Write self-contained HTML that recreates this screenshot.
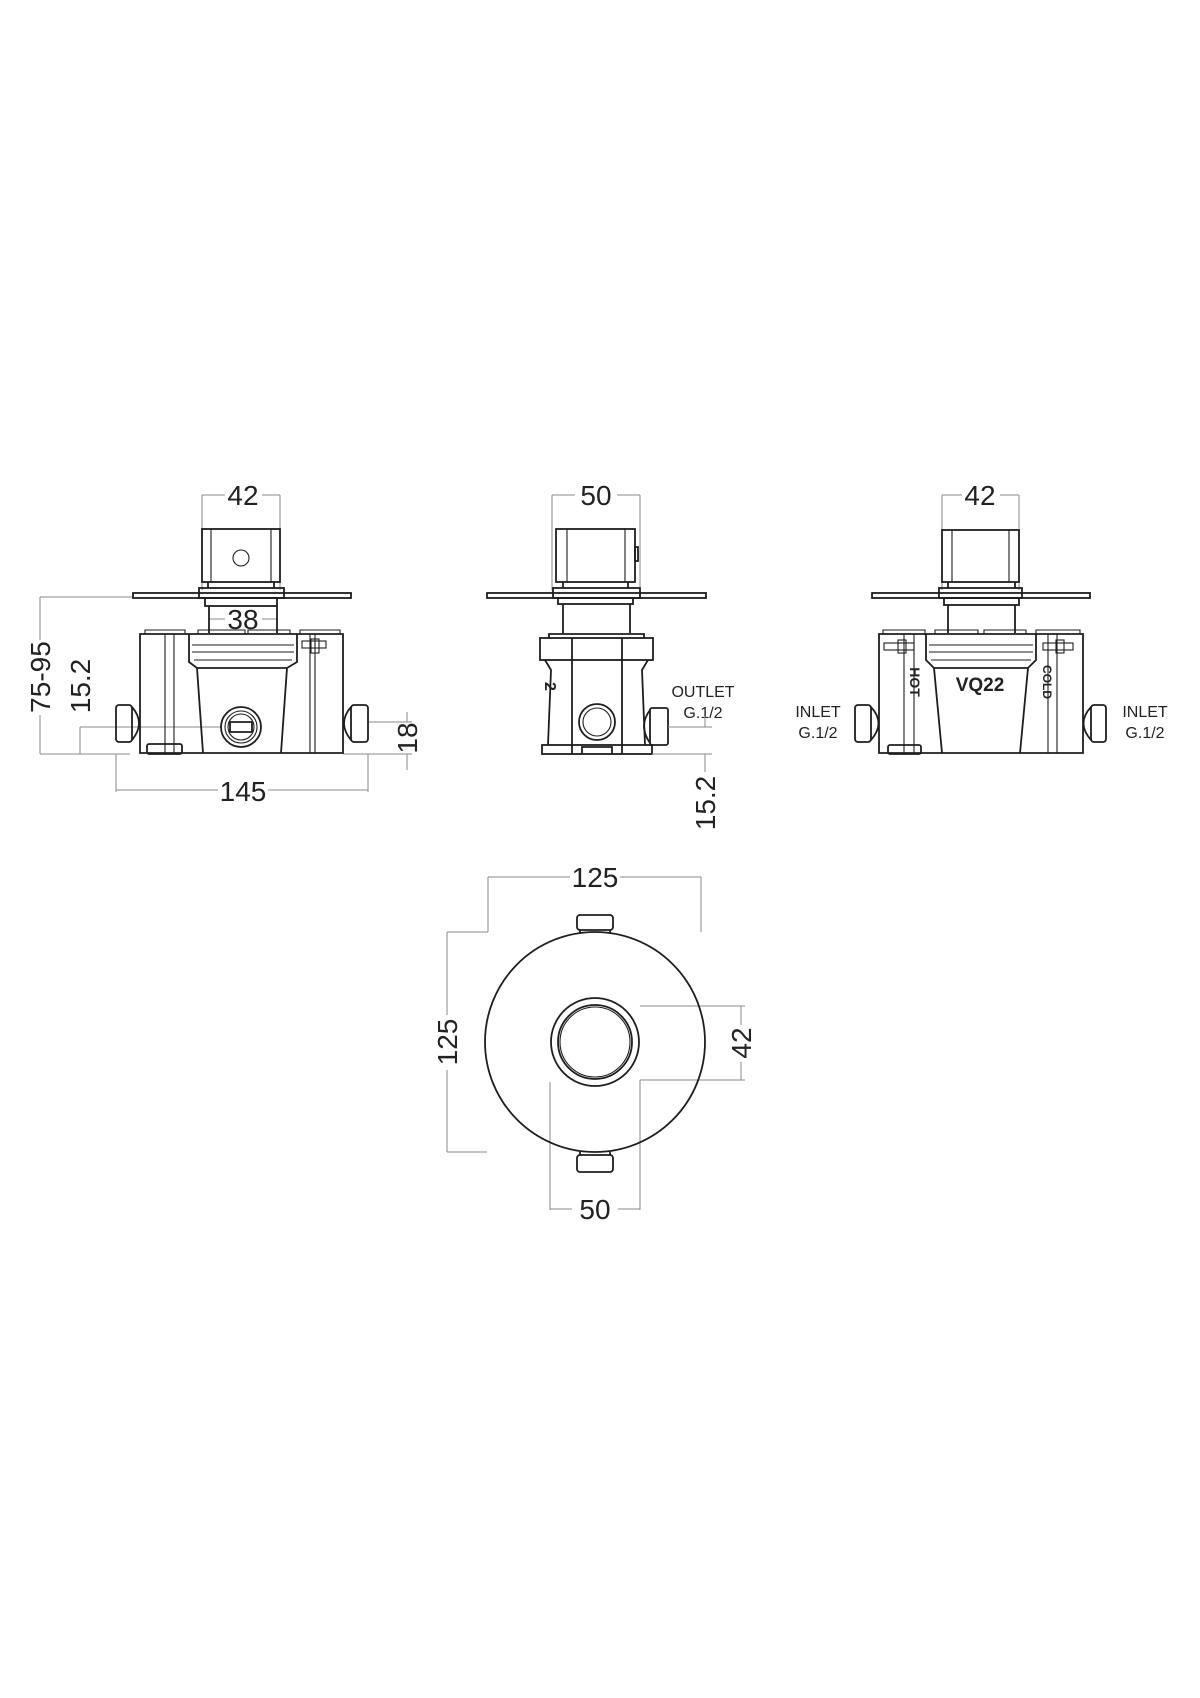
<!DOCTYPE html>
<html><head><meta charset="utf-8"><style>
html,body{margin:0;padding:0;background:#fff}
svg{display:block}
text{font-family:"Liberation Sans","DejaVu Sans",sans-serif;fill:#222}
.o{fill:none;stroke:#1e1e1e;stroke-width:1.8}
.t{fill:none;stroke:#1e1e1e;stroke-width:1.1}
.d{fill:none;stroke:#8a8a8a;stroke-width:1}
.a{fill:#333}
</style></head><body>
<svg width="1200" height="1698" viewBox="0 0 1200 1698" xmlns="http://www.w3.org/2000/svg">
<!-- ===== VIEW 1 ===== -->
<g>
<path class="d" d="M202 495V590M280 495V590M202 495H225M262 495H280"/>
<text x="243" y="505" font-size="28" text-anchor="middle">42</text>
<path class="d" d="M209 619H225M262 619H277"/>
<text x="243" y="629" font-size="28" text-anchor="middle">38</text>
<path class="d" d="M40 597H133M40 754H130M40 597V640M40 715V754"/>
<text transform="translate(50,677) rotate(-90)" font-size="28" text-anchor="middle">75-95</text>
<path class="d" d="M80 727H222M80 754H116M80 727V754"/>
<text transform="translate(90,686) rotate(-90)" font-size="28" text-anchor="middle">15.2</text>
<path class="d" d="M368 722H412M343 754H412M407 712V722M407 754V770"/>
<text transform="translate(417,738) rotate(-90)" font-size="28" text-anchor="middle">18</text>
<path class="d" d="M116 754V792M368 754V792M116 790H218M268 790H368"/>
<text x="243" y="801" font-size="28" text-anchor="middle">145</text>
<rect class="o" x="202" y="529" width="78" height="53"/>
<path class="t" d="M211 529V582M271 529V582"/>
<circle class="t" cx="241" cy="558" r="8"/>
<path class="o" d="M208 582V588M274 582V588"/>
<rect class="o" x="199" y="588" width="85" height="10"/>
<rect class="o" x="133" y="593" width="218" height="5"/>
<rect class="o" x="205" y="598" width="72" height="8"/>
<path class="o" d="M209 606V633M277 606V633"/>
<path class="o" d="M140 634H343V753H140Z"/>
<path class="t" d="M145 634V630H185V634M198 634V630H245V634M248 634V630H290V634M300 634V630H340V634"/>
<path class="t" d="M165 634V753M174 634V753M310 634V753M315 634V753"/>
<path class="o" d="M189 634V662L197 668H287L297 662V634"/>
<path class="t" d="M192 645H294M192 652H294M194 660H292"/>
<path class="o" d="M197 668L203 753M287 668L281 753"/>
<rect class="t" x="302" y="641" width="24" height="7"/>
<rect class="t" x="311" y="639" width="8" height="14"/>
<rect class="o" x="147" y="744" width="35" height="10" rx="2"/>
<circle class="o" cx="241" cy="727" r="20"/>
<circle class="t" cx="241" cy="727" r="16"/>
<circle class="t" cx="241" cy="727" r="13"/>
<path class="o" d="M230 722H252V732H230Z"/>
<rect class="o" x="116" y="705" width="16" height="37" rx="3"/>
<path class="o" d="M132 707Q146 723 132 740"/>
<rect class="o" x="351" y="705" width="17" height="37" rx="3"/>
<path class="o" d="M351 707Q337 723 351 740"/>
</g>
<!-- ===== VIEW 2 ===== -->
<g>
<path class="d" d="M552 495V590M640 495V590M552 495H575M617 495H640"/>
<text x="596" y="505" font-size="28" text-anchor="middle">50</text>
<rect class="o" x="556" y="529" width="79" height="53"/>
<path class="t" d="M567 529V582M625 529V582"/>
<rect class="o" x="635" y="547" width="3" height="14"/>
<path class="o" d="M563 582V588M628 582V588"/>
<rect class="o" x="553" y="588" width="87" height="10"/>
<rect class="o" x="487" y="593" width="219" height="5"/>
<rect class="o" x="558" y="598" width="75" height="6"/>
<path class="o" d="M563 604V633M630 604V633"/>
<path class="o" d="M549 638V634H644V638"/>
<rect class="o" x="540" y="638" width="113" height="22"/>
<path class="o" d="M545 660L551 670L548 745M648 660L642 670L645 745"/>
<rect class="o" x="542" y="745" width="110" height="9"/>
<path class="o" d="M572 638V754M622 638V754"/>
<path class="o" d="M582 754V747H612V754"/>
<circle class="o" cx="597" cy="722" r="18"/>
<circle class="t" cx="597" cy="722" r="14"/>
<rect class="o" x="650" y="708" width="18" height="37" rx="2"/>
<path class="o" d="M650 710Q638 726 650 743"/>
<text x="553" y="690" font-size="16" font-weight="bold" transform="rotate(90 553 682)">2</text>
<text x="703" y="697" font-size="16" text-anchor="middle">OUTLET</text>
<text x="703" y="718" font-size="16" text-anchor="middle">G.1/2</text>
<path class="d" d="M668 727H712M652 754H712M705 716V727M705 754V772"/>
<text transform="translate(715,803) rotate(-90)" font-size="28" text-anchor="middle">15.2</text>
</g>
<!-- ===== VIEW 3 ===== -->
<g>
<path class="d" d="M942 495V590M1019 495V590M942 495H962M1000 495H1019"/>
<text x="980" y="505" font-size="28" text-anchor="middle">42</text>
<rect class="o" x="942" y="530" width="77" height="52"/>
<path class="t" d="M952 530V582M1009 530V582"/>
<path class="o" d="M948 582V588M1015 582V588"/>
<rect class="o" x="939" y="588" width="83" height="10"/>
<rect class="o" x="872" y="593" width="218" height="5"/>
<rect class="o" x="944" y="598" width="75" height="7"/>
<path class="o" d="M948 605V633M1015 605V633"/>
<path class="o" d="M879 634H1083V753H879Z"/>
<path class="t" d="M883 634V630H925V634M935 634V630H978V634M984 634V630H1026V634M1036 634V630H1080V634"/>
<path class="t" d="M904 634V753M914 634V753M1048 634V753M1057 634V753"/>
<rect class="t" x="884" y="643" width="30" height="7"/>
<rect class="t" x="898" y="640" width="8" height="13"/>
<rect class="t" x="1043" y="643" width="30" height="7"/>
<rect class="t" x="1056" y="640" width="8" height="13"/>
<path class="o" d="M926 634V660L934 668H1028L1036 660V634"/>
<path class="t" d="M929 645H1033M929 652H1033M931 660H1031"/>
<path class="o" d="M934 668L942 753M1028 668L1020 753"/>
<rect class="o" x="888" y="745" width="33" height="9" rx="2"/>
<text x="980" y="691" font-size="19" font-weight="bold" text-anchor="middle">VQ22</text>
<text transform="translate(910,682) rotate(90)" font-size="14" font-weight="bold" text-anchor="middle">HOT</text>
<text transform="translate(1043,682) rotate(90)" font-size="12" font-weight="bold" text-anchor="middle">COLD</text>
<rect class="o" x="855" y="705" width="16" height="37" rx="3"/>
<path class="o" d="M871 707Q886 723 871 740"/>
<rect class="o" x="1091" y="705" width="15" height="37" rx="3"/>
<path class="o" d="M1091 707Q1076 723 1091 740"/>
<text x="818" y="717" font-size="16" text-anchor="middle">INLET</text>
<text x="818" y="738" font-size="16" text-anchor="middle">G.1/2</text>
<text x="1145" y="717" font-size="16" text-anchor="middle">INLET</text>
<text x="1145" y="738" font-size="16" text-anchor="middle">G.1/2</text>
</g>
<!-- ===== VIEW 4 ===== -->
<g>
<path class="d" d="M488 877V932M701 877V932M488 877H570M620 877H701"/>
<text x="595" y="887" font-size="28" text-anchor="middle">125</text>
<path class="d" d="M447 932H488M447 1152H487M447 932V1015M447 1070V1152"/>
<text transform="translate(457,1042) rotate(-90)" font-size="28" text-anchor="middle">125</text>
<path class="d" d="M640 1006H745M640 1080H745M741 1006V1025M741 1062V1080M640 1080V1210M550 1082V1210M550 1209H572M618 1209H640"/>
<text transform="translate(751,1043) rotate(-90)" font-size="28" text-anchor="middle">42</text>
<text x="595" y="1219" font-size="28" text-anchor="middle">50</text>
<circle class="o" cx="595" cy="1042" r="110"/>
<circle class="o" cx="595" cy="1042" r="44"/>
<circle class="o" cx="595" cy="1042" r="37"/>
<circle class="t" cx="595" cy="1042" r="35"/>
<rect class="o" x="577" y="915" width="36" height="15" rx="3"/>
<path class="o" d="M580 930V933M610 930V933"/>
<rect class="o" x="577" y="1155" width="36" height="17" rx="3"/>
<path class="o" d="M580 1152V1155M610 1152V1155"/>
</g>
</svg>
</body></html>
